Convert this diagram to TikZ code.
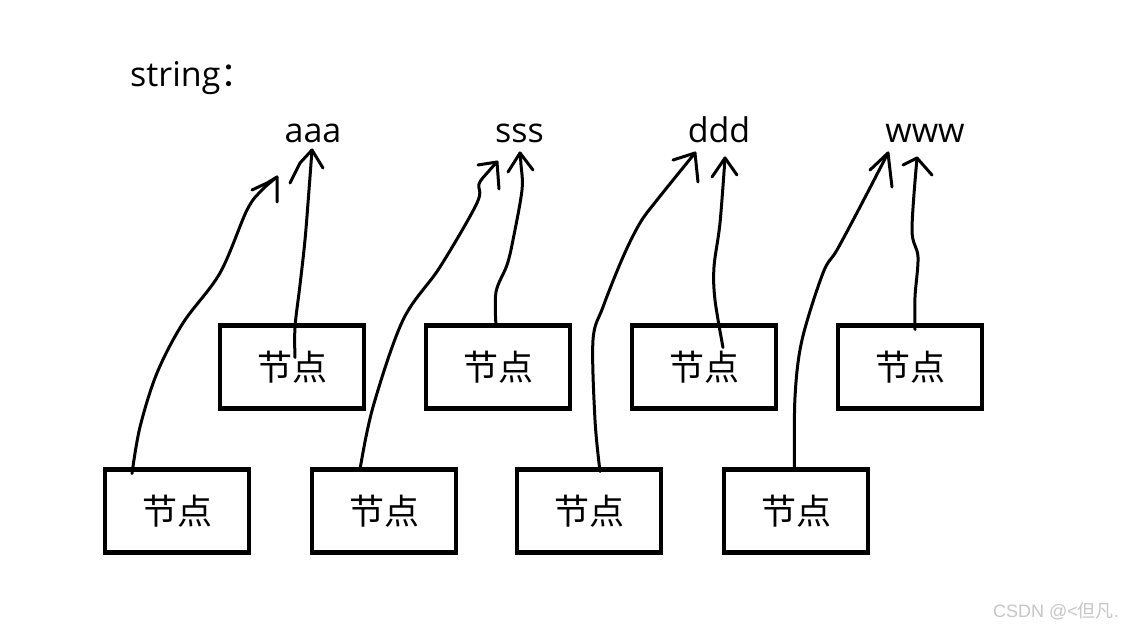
\documentclass[tikz,border=0pt]{standalone}
\usepackage{fontspec}
\setmainfont{Open Sans}
\newfontfamily\cjk{Noto Sans CJK SC}
\newfontfamily\wmfont{Liberation Sans}
\begin{document}
\begin{tikzpicture}[x=1pt,y=-1pt,
  box/.style={draw, line width=4.5pt, minimum width=144pt, minimum height=83pt,
    inner sep=0pt, outer sep=0pt, font=\cjk\fontsize{35}{40}\selectfont},
  word/.style={anchor=base, inner sep=0pt, font=\fontsize{34}{40}\selectfont},
  hand/.style={line width=3pt, line cap=round, line join=round},
  smoothhand/.style={hand, smooth, tension=0.55},
]
\useasboundingbox (0,0) rectangle (1144,631);

% title
\node[anchor=base west, inner sep=0pt, font=\fontsize{34}{40}\selectfont] (st) at (130,87) {string{\cjk ：}};

% words
\node[word] (w1) at (313,143) {aaa};
\node[word] (w2) at (519.5,143) {sss};
\node[word] (w3) at (719,143) {ddd};
\node[word] (w4) at (925,143) {www};

% boxes
\node[box] (b1) at (292,367) {节点};
\node[box] (b2) at (498,367) {节点};
\node[box] (b3) at (704,367) {节点};
\node[box] (b4) at (910,367) {节点};
\node[box] (b5) at (177,511) {节点};
\node[box] (b6) at (384,511) {节点};
\node[box] (b7) at (589,511) {节点};
\node[box] (b8) at (796,511) {节点};

% arrow tips (apexes)
\coordinate (t1) at (277,177);
\coordinate (t2) at (312,150);
\coordinate (t3) at (497,162);
\coordinate (t4) at (520,153);
\coordinate (t5) at (695,153);
\coordinate (t6) at (725,158);
\coordinate (t7) at (888,153);
\coordinate (t8) at (917,158);

% bottom-row connectors
\draw[hand] plot[smooth, tension=0.55] coordinates {([xshift=-45pt,yshift=-4pt]b5.north) (140,427) (157,373) (183,323) (220,273) (247,210) (262,190) (t1)};
\draw[hand] (t1) ++(-25,13) -- ++(15,-7) -- (t1) -- ++(0,25);

\draw[hand] plot[smooth, tension=0.55] coordinates {([xshift=-24pt]b6.north) (373,407) (403,320) (440,267) (477,203) (479,184) (488,172) (t3)};
\draw[hand] (t3) ++(-19,3) -- (t3) -- ++(2,27);

\draw[hand] plot[smooth, tension=0.55] coordinates {([xshift=11pt,yshift=-2pt]b7.north) (595,420) (593,340) (603,307) (623,257) (640,223) (657,200) (t5)};
\draw[hand] (t5) ++(-22,7) -- (t5) -- ++(3,29);

\draw[hand] plot[smooth, tension=0.55] coordinates {([xshift=-1.5pt]b8.north) (795,397) (802,340) (823,273) (837,250) (860,207) (t7)};
\draw[hand] (t7) ++(-18,17) -- (t7) -- ++(4,34);

% top-row connectors
\draw[hand] plot[smooth, tension=0.55] coordinates {([xshift=3pt,yshift=-32pt]b1.north) (295,327) (300,285) (305,240) (309,190) (t2)};
\draw[hand] (t2) ++(-22,33) -- ++(10,-20) -- (t2) -- ++(11,18);

\draw[hand] plot[smooth, tension=0.55] coordinates {([xshift=-2pt]b2.north) (496,292) (507,265) (513,240) (522,190) (521,165) (t4)};
\draw[hand] (t4) ++(-12,19) -- (t4) -- ++(13,17);

\draw[hand] plot[smooth, tension=0.55] coordinates {([xshift=19pt,yshift=-22pt]b3.north) (715,300) (714,267) (720,223) (t6)};
\draw[hand] (t6) ++(-13,19) -- (t6) -- ++(12,17);

\draw[hand] plot[smooth, tension=0.55] coordinates {([xshift=5pt,yshift=-4pt]b4.north) (915,297) (918,257) (912,230) (t8)};
\draw[hand] (t8) ++(-14,7) -- (t8) -- ++(15,17);

% watermark
\node[anchor=base west, inner sep=0pt, text=gray!45, font=\wmfont\fontsize{18}{20}\selectfont] (wm) at (993,617) {CSDN @<{\cjk 但凡}.};
\end{tikzpicture}
\end{document}
